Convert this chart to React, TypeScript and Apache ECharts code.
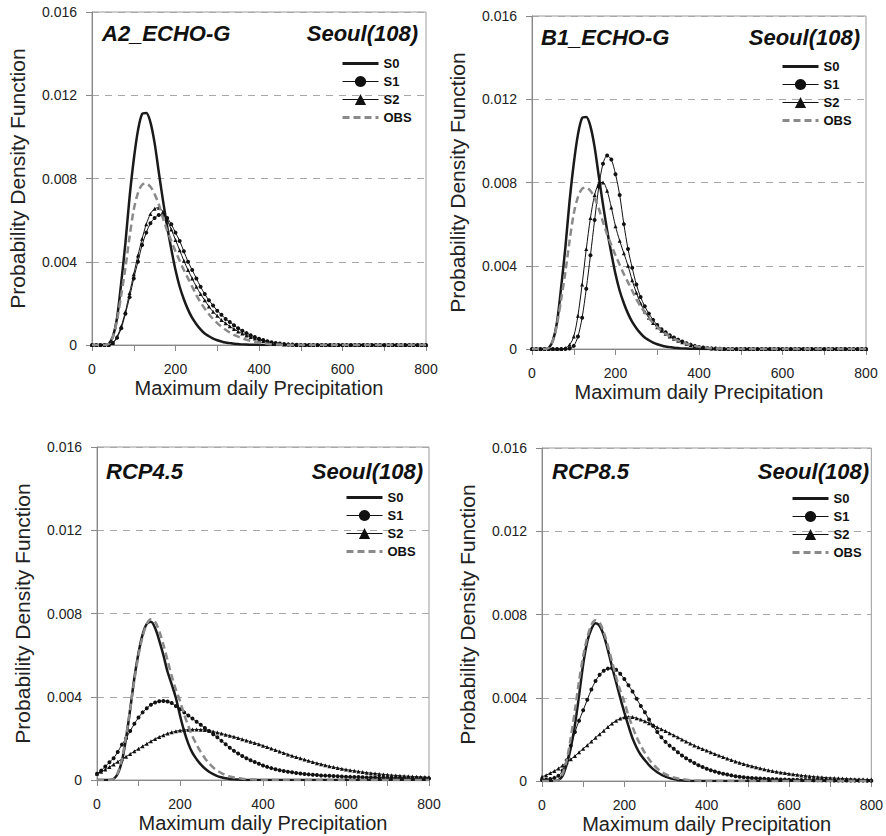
import React, { useEffect, useRef } from "react";
import * as echarts from "echarts";

// Sampling grid of the precipitation axis (mm)
const X_VALUES = [
  0, 10, 20, 30, 40, 50, 60, 70, 80, 90,
  100, 110, 120, 130, 140, 150, 160, 170, 180, 190,
  200, 210, 220, 230, 240, 250, 260, 270, 280, 290,
  300, 310, 320, 330, 340, 350, 360, 370, 380, 390,
  400, 410, 420, 430, 440, 450, 460, 470, 480, 490,
  500, 510, 520, 530, 540, 550, 560, 570, 580, 590,
  600, 610, 620, 630, 640, 650, 660, 670, 680, 690,
  700, 710, 720, 730, 740, 750, 760, 770, 780, 790,
  800,
];

// PDF values, in units of 1e-3
const UNIT = 0.001;

const S0_ECHO = [
  0, 0, 0, 0, 0.05, 0.4, 1.3, 3.0, 4.9, 7.1,
  8.9, 10.3, 11.1, 11.15, 10.7, 9.7, 8.3, 6.95, 5.7, 4.6,
  3.6, 2.8, 2.2, 1.7, 1.3, 1.0, 0.75, 0.55, 0.42, 0.31,
  0.23, 0.17, 0.12, 0.09, 0.06, 0.045, 0.03, 0.02, 0.015, 0.01,
  0.007, 0, 0, 0, 0, 0, 0, 0, 0, 0,
  0, 0, 0, 0, 0, 0, 0, 0, 0, 0,
  0, 0, 0, 0, 0, 0, 0, 0, 0, 0,
  0, 0, 0, 0, 0, 0, 0, 0, 0, 0,
  0,
];

const OBS_ECHO = [
  0, 0, 0, 0, 0.05, 0.4, 1.2, 2.4, 3.7, 5.2,
  6.5, 7.3, 7.7, 7.75, 7.6, 7.25, 6.75, 6.1, 5.5, 5.0,
  4.5, 4.05, 3.6, 3.2, 2.8, 2.4, 2.05, 1.75, 1.48, 1.25,
  1.05, 0.88, 0.73, 0.6, 0.49, 0.4, 0.32, 0.25, 0.2, 0.15,
  0.11, 0.08, 0.06, 0.04, 0.03, 0.02, 0.01, 0, 0, 0,
  0, 0, 0, 0, 0, 0, 0, 0, 0, 0,
  0, 0, 0, 0, 0, 0, 0, 0, 0, 0,
  0, 0, 0, 0, 0, 0, 0, 0, 0, 0,
  0,
];

const S1_A2 = [
  0, 0, 0, 0, 0, 0.1, 0.35, 0.8, 1.5, 2.3,
  3.2, 4.0, 4.8, 5.4, 5.85, 6.1, 6.25, 6.25, 6.1, 5.8,
  5.4, 5.0, 4.5, 4.0, 3.6, 3.2, 2.8, 2.45, 2.15, 1.9,
  1.65, 1.45, 1.25, 1.1, 0.95, 0.8, 0.68, 0.57, 0.47, 0.38,
  0.3, 0.24, 0.18, 0.13, 0.1, 0.07, 0.05, 0.03, 0.02, 0.01,
  0, 0, 0, 0, 0, 0, 0, 0, 0, 0,
  0, 0, 0, 0, 0, 0, 0, 0, 0, 0,
  0, 0, 0, 0, 0, 0, 0, 0, 0, 0,
  0,
];

const S2_A2 = [
  0, 0, 0, 0, 0, 0.1, 0.4, 0.9, 1.6, 2.5,
  3.4, 4.3, 5.1, 5.8, 6.3, 6.55, 6.6, 6.4, 6.0, 5.55,
  5.05, 4.55, 4.05, 3.6, 3.2, 2.8, 2.45, 2.15, 1.85, 1.6,
  1.4, 1.2, 1.05, 0.9, 0.77, 0.65, 0.55, 0.46, 0.38, 0.31,
  0.25, 0.19, 0.14, 0.1, 0.07, 0.05, 0.03, 0.02, 0.01, 0,
  0, 0, 0, 0, 0, 0, 0, 0, 0, 0,
  0, 0, 0, 0, 0, 0, 0, 0, 0, 0,
  0, 0, 0, 0, 0, 0, 0, 0, 0, 0,
  0,
];

const S1_B1 = [
  0, 0, 0, 0, 0, 0, 0, 0, 0, 0.02,
  0.15, 0.6, 1.5, 2.9, 4.5, 6.2, 7.8, 8.9, 9.3, 9.1,
  8.4, 7.4, 6.0, 4.8, 3.9, 3.1, 2.5, 2.05, 1.7, 1.4,
  1.15, 0.95, 0.8, 0.66, 0.55, 0.45, 0.36, 0.28, 0.21, 0.15,
  0.1, 0.07, 0.05, 0.03, 0.02, 0.01, 0, 0, 0, 0,
  0, 0, 0, 0, 0, 0, 0, 0, 0, 0,
  0, 0, 0, 0, 0, 0, 0, 0, 0, 0,
  0, 0, 0, 0, 0, 0, 0, 0, 0, 0,
  0,
];

const S2_B1 = [
  0, 0, 0, 0, 0, 0, 0, 0, 0.05, 0.2,
  0.6, 1.6, 3.1, 4.8, 6.3, 7.4, 7.95, 8.0, 7.6, 6.8,
  5.9, 5.2, 4.6, 4.0, 3.3, 2.7, 2.2, 1.8, 1.5, 1.25,
  1.05, 0.88, 0.73, 0.6, 0.49, 0.4, 0.32, 0.25, 0.19, 0.14,
  0.1, 0.07, 0.05, 0.03, 0.02, 0.01, 0, 0, 0, 0,
  0, 0, 0, 0, 0, 0, 0, 0, 0, 0,
  0, 0, 0, 0, 0, 0, 0, 0, 0, 0,
  0, 0, 0, 0, 0, 0, 0, 0, 0, 0,
  0,
];

const S0_RCP45 = [
  0, 0, 0, 0, 0.05, 0.3, 0.9, 2.0, 3.4, 4.9,
  6.1, 7.0, 7.5, 7.6, 7.3, 6.7, 6.0, 5.2, 4.6, 3.95,
  3.1, 2.35, 1.75, 1.3, 1.0, 0.75, 0.55, 0.4, 0.28, 0.19,
  0.13, 0.08, 0.05, 0.03, 0.02, 0.01, 0, 0, 0, 0,
  0, 0, 0, 0, 0, 0, 0, 0, 0, 0,
  0, 0, 0, 0, 0, 0, 0, 0, 0, 0,
  0, 0, 0, 0, 0, 0, 0, 0, 0, 0,
  0, 0, 0, 0, 0, 0, 0, 0, 0, 0,
  0,
];

const OBS_RCP = [
  0, 0, 0, 0, 0.05, 0.35, 1.0, 2.1, 3.4, 4.8,
  6.0, 6.9, 7.5, 7.72, 7.6, 7.15, 6.5, 5.75, 5.0, 4.35,
  3.8, 3.15, 2.6, 2.1, 1.7, 1.35, 1.05, 0.8, 0.6, 0.45,
  0.33, 0.24, 0.17, 0.12, 0.09, 0.06, 0.04, 0.03, 0.02, 0.01,
  0, 0, 0, 0, 0, 0, 0, 0, 0, 0,
  0, 0, 0, 0, 0, 0, 0, 0, 0, 0,
  0, 0, 0, 0, 0, 0, 0, 0, 0, 0,
  0, 0, 0, 0, 0, 0, 0, 0, 0, 0,
  0,
];

const S1_RCP45 = [
  0.3, 0.45, 0.65, 0.85, 1.05, 1.35, 1.7, 2.0, 2.35, 2.7,
  3.0, 3.25, 3.45, 3.62, 3.72, 3.78, 3.8, 3.77, 3.7, 3.55,
  3.4, 3.25, 3.1, 2.95, 2.8, 2.65, 2.5, 2.35, 2.2, 2.05,
  1.88, 1.72, 1.55, 1.4, 1.27, 1.15, 1.05, 0.95, 0.86, 0.78,
  0.7, 0.63, 0.57, 0.52, 0.47, 0.43, 0.4, 0.37, 0.34, 0.31,
  0.29, 0.27, 0.25, 0.24, 0.22, 0.21, 0.2, 0.19, 0.18, 0.17,
  0.16, 0.15, 0.145, 0.14, 0.13, 0.125, 0.12, 0.115, 0.11, 0.105,
  0.1, 0.097, 0.094, 0.091, 0.088, 0.085, 0.083, 0.081, 0.079, 0.077,
  0.075,
];

const S2_RCP45 = [
  0.3, 0.4, 0.5, 0.62, 0.75, 0.88, 1.0, 1.12, 1.25, 1.38,
  1.5, 1.62, 1.74, 1.86, 1.97, 2.07, 2.15, 2.23, 2.29, 2.34,
  2.38, 2.4, 2.42, 2.43, 2.43, 2.42, 2.4, 2.37, 2.33, 2.28,
  2.23, 2.18, 2.13, 2.08, 2.02, 1.96, 1.9, 1.84, 1.78, 1.72,
  1.65, 1.58, 1.51, 1.44, 1.37, 1.3, 1.23, 1.16, 1.1, 1.04,
  0.98, 0.92, 0.86, 0.81, 0.76, 0.71, 0.66, 0.62, 0.58, 0.54,
  0.5, 0.47, 0.44, 0.41, 0.38, 0.35, 0.33, 0.31, 0.29, 0.27,
  0.25, 0.23, 0.22, 0.2, 0.19, 0.18, 0.17, 0.16, 0.15, 0.14,
  0.13,
];

const S0_RCP85 = [
  0, 0, 0, 0, 0.05, 0.25, 0.8, 1.6, 2.7, 4.1,
  5.6, 6.7, 7.3, 7.58, 7.45, 7.0, 6.3, 5.5, 4.75, 4.0,
  3.3, 2.65, 2.05, 1.6, 1.25, 1.0, 0.76, 0.57, 0.42, 0.3,
  0.21, 0.14, 0.09, 0.05, 0.03, 0.01, 0, 0, 0, 0,
  0, 0, 0, 0, 0, 0, 0, 0, 0, 0,
  0, 0, 0, 0, 0, 0, 0, 0, 0, 0,
  0, 0, 0, 0, 0, 0, 0, 0, 0, 0,
  0, 0, 0, 0, 0, 0, 0, 0, 0, 0,
  0,
];

const S1_RCP85 = [
  0.05, 0.07, 0.1, 0.15, 0.25, 0.5, 1.0, 1.7, 2.35, 2.9,
  3.4, 3.9, 4.4, 4.8, 5.1, 5.3, 5.4, 5.42, 5.35, 5.15,
  4.9, 4.6, 4.3, 3.95, 3.6, 3.3, 2.95, 2.65, 2.35, 2.1,
  1.88, 1.7, 1.55, 1.38, 1.23, 1.09, 0.97, 0.86, 0.76, 0.67,
  0.59, 0.52, 0.46, 0.4, 0.35, 0.31, 0.27, 0.23, 0.2, 0.18,
  0.16, 0.14, 0.13, 0.12, 0.11, 0.1, 0.09, 0.08, 0.075, 0.07,
  0.065, 0.06, 0.055, 0.05, 0.047, 0.044, 0.041, 0.038, 0.035, 0.033,
  0.031, 0.029, 0.027, 0.025, 0.023, 0.021, 0.02, 0.019, 0.018, 0.017,
  0.016,
];

const S2_RCP85 = [
  0.2, 0.28, 0.38, 0.48, 0.6, 0.74, 0.9, 1.05, 1.2, 1.38,
  1.55, 1.72, 1.9, 2.08, 2.25, 2.42, 2.6, 2.76, 2.9, 3.0,
  3.06, 3.08, 3.07, 3.02, 2.95, 2.87, 2.78, 2.68, 2.58, 2.49,
  2.4, 2.3, 2.2, 2.1, 2.0, 1.9, 1.8, 1.71, 1.62, 1.54,
  1.46, 1.38, 1.3, 1.22, 1.15, 1.08, 1.01, 0.94, 0.88, 0.82,
  0.76, 0.71, 0.66, 0.61, 0.56, 0.52, 0.48, 0.44, 0.41, 0.38,
  0.35, 0.32, 0.3, 0.27, 0.25, 0.23, 0.21, 0.19, 0.18, 0.16,
  0.15, 0.14, 0.13, 0.12, 0.11, 0.1, 0.09, 0.08, 0.08, 0.07,
  0.07,
];

const SERIES_NAMES = ["S0", "S1", "S2", "OBS"];
const X_TICK_LABELS = ["0", "200", "400", "600", "800"];
const Y_TICK_LABELS = ["0", "0.004", "0.008", "0.012", "0.016"];
const X_AXIS_NAME = "Maximum daily Precipitation";
const Y_AXIS_NAME = "Probability Density Function";
const STATION = "Seoul(108)";

const PANELS = [
  { scenario: "A2_ECHO-G", s0: S0_ECHO, s1: S1_A2, s2: S2_A2, obs: OBS_ECHO },
  { scenario: "B1_ECHO-G", s0: S0_ECHO, s1: S1_B1, s2: S2_B1, obs: OBS_ECHO },
  { scenario: "RCP4.5", s0: S0_RCP45, s1: S1_RCP45, s2: S2_RCP45, obs: OBS_RCP },
  { scenario: "RCP8.5", s0: S0_RCP85, s1: S1_RCP85, s2: S2_RCP85, obs: OBS_RCP },
];

// Layout (pixels)
const LAYOUT = [
  { left: 92, top: 12, width: 334, height: 333, legLeft: 341, legTop: 57, tL: 102, tR: 418, tY: 33 },
  { left: 532, top: 16, width: 334, height: 333, legLeft: 781, legTop: 60, tL: 541, tR: 860, tY: 37 },
  { left: 97, top: 447, width: 332, height: 333, legLeft: 345, legTop: 491, tL: 106, tR: 423, tY: 471 },
  { left: 542, top: 448, width: 333, height: 333, legLeft: 791, legTop: 492, tL: 552, tR: 869, tY: 471 },
];

const FONT = "Liberation Sans, Arial, Helvetica, sans-serif";

function toPoints(arr: number[]) {
  return arr.map((v, i) => [X_VALUES[i], v * UNIT]);
}

export default function App() {
  const ref = useRef<HTMLDivElement>(null);

  useEffect(() => {
    if (!ref.current) return;
    const chart = echarts.init(ref.current, undefined, { renderer: "svg" });

    const grid = LAYOUT.map((l) => ({
      left: l.left,
      top: l.top,
      width: l.width,
      height: l.height,
      show: true,
      borderColor: "#9a9a9a",
      borderWidth: 1,
      backgroundColor: "transparent",
    }));

    const xAxis = LAYOUT.map((_, i) => ({
      type: "value",
      gridIndex: i,
      min: 0,
      max: 800,
      interval: 100,
      name: X_AXIS_NAME,
      nameLocation: "middle",
      nameGap: 33,
      nameTextStyle: { fontSize: 20, color: "#222", fontFamily: FONT },
      axisLine: { show: true, lineStyle: { color: "#888", width: 1 } },
      axisTick: { show: true, length: 6, inside: false, lineStyle: { color: "#888" } },
      axisLabel: {
        margin: 17,
        fontSize: 14,
        color: "#222",
        fontFamily: FONT,
        formatter: (v: number) => (X_TICK_LABELS.includes(String(v)) ? String(v) : ""),
      },
      splitLine: { show: false },
    }));

    const yAxis = LAYOUT.map((_, i) => ({
      type: "value",
      gridIndex: i,
      min: 0,
      max: 0.016,
      interval: 0.004,
      name: Y_AXIS_NAME,
      nameLocation: "middle",
      nameGap: 64,
      nameTextStyle: { fontSize: 21, color: "#222", fontFamily: FONT },
      axisLine: { show: true, lineStyle: { color: "#888", width: 1 } },
      axisTick: { show: true, length: 6, inside: false, lineStyle: { color: "#888" } },
      axisLabel: {
        margin: 15,
        fontSize: 14,
        color: "#222",
        fontFamily: FONT,
        formatter: (v: number) => Y_TICK_LABELS[Math.round(v / 0.004)] ?? "",
      },
      splitLine: { show: true, lineStyle: { type: [7, 6], color: "#a8a8a8", width: 1 } },
    }));

    const series: any[] = [];
    PANELS.forEach((p, i) => {
      series.push({
        name: "S0",
        type: "line",
        xAxisIndex: i,
        yAxisIndex: i,
        data: toPoints(p.s0),
        symbol: "none",
        smooth: 0.3,
        lineStyle: { color: "#1a1a1a", width: 2.5 },
        itemStyle: { color: "#1a1a1a" },
        z: 3,
      });
      series.push({
        name: "S1",
        type: "line",
        xAxisIndex: i,
        yAxisIndex: i,
        data: toPoints(p.s1),
        symbol: "circle",
        symbolSize: 4,
        showSymbol: true,
        smooth: 0.3,
        lineStyle: { color: "#111", width: 1 },
        itemStyle: { color: "#111" },
        z: 4,
      });
      series.push({
        name: "S2",
        type: "line",
        xAxisIndex: i,
        yAxisIndex: i,
        data: toPoints(p.s2),
        symbol: "triangle",
        symbolSize: 4,
        showSymbol: true,
        smooth: 0.3,
        lineStyle: { color: "#111", width: 1 },
        itemStyle: { color: "#111" },
        z: 4,
      });
      series.push({
        name: "OBS",
        type: "line",
        xAxisIndex: i,
        yAxisIndex: i,
        data: toPoints(p.obs),
        symbol: "none",
        smooth: 0.3,
        lineStyle: { color: "#8a8a8a", width: 2.5, type: [7, 4] },
        itemStyle: { color: "#8a8a8a" },
        z: 5,
      });
    });

    const legendData = SERIES_NAMES.map((n) => {
      if (n === "S0") return { name: n, itemStyle: { opacity: 0 }, lineStyle: { width: 3 } };
      if (n === "OBS") return { name: n, itemStyle: { opacity: 0 }, lineStyle: { width: 3 } };
      return { name: n, lineStyle: { width: 1 } };
    });

    const legend = LAYOUT.map((l) => ({
      data: legendData,
      orient: "vertical",
      left: l.legLeft,
      top: l.legTop,
      itemWidth: 36,
      itemHeight: 14,
      itemGap: 5,
      padding: 0,
      selectedMode: false,
      textStyle: { fontSize: 13, fontWeight: "bold", color: "#111", fontFamily: FONT },
    }));

    const graphic: any[] = [];
    PANELS.forEach((p, i) => {
      const l = LAYOUT[i];
      graphic.push({
        type: "text",
        x: l.tL,
        y: l.tY,
        style: {
          text: p.scenario,
          font: `italic bold 22px ${FONT}`,
          fill: "#111",
          textAlign: "left",
          textVerticalAlign: "middle",
        },
      });
      graphic.push({
        type: "text",
        x: l.tR,
        y: l.tY,
        style: {
          text: STATION,
          font: `italic bold 22px ${FONT}`,
          fill: "#111",
          textAlign: "right",
          textVerticalAlign: "middle",
        },
      });
    });

    chart.setOption({
      animation: false,
      backgroundColor: "#ffffff",
      grid,
      xAxis,
      yAxis,
      legend,
      series,
      graphic,
    });

    return () => chart.dispose();
  }, []);

  return (
    <div
      ref={ref}
      style={{ position: "absolute", left: 0, top: 0, width: 886, height: 836 }}
    />
  );
}
